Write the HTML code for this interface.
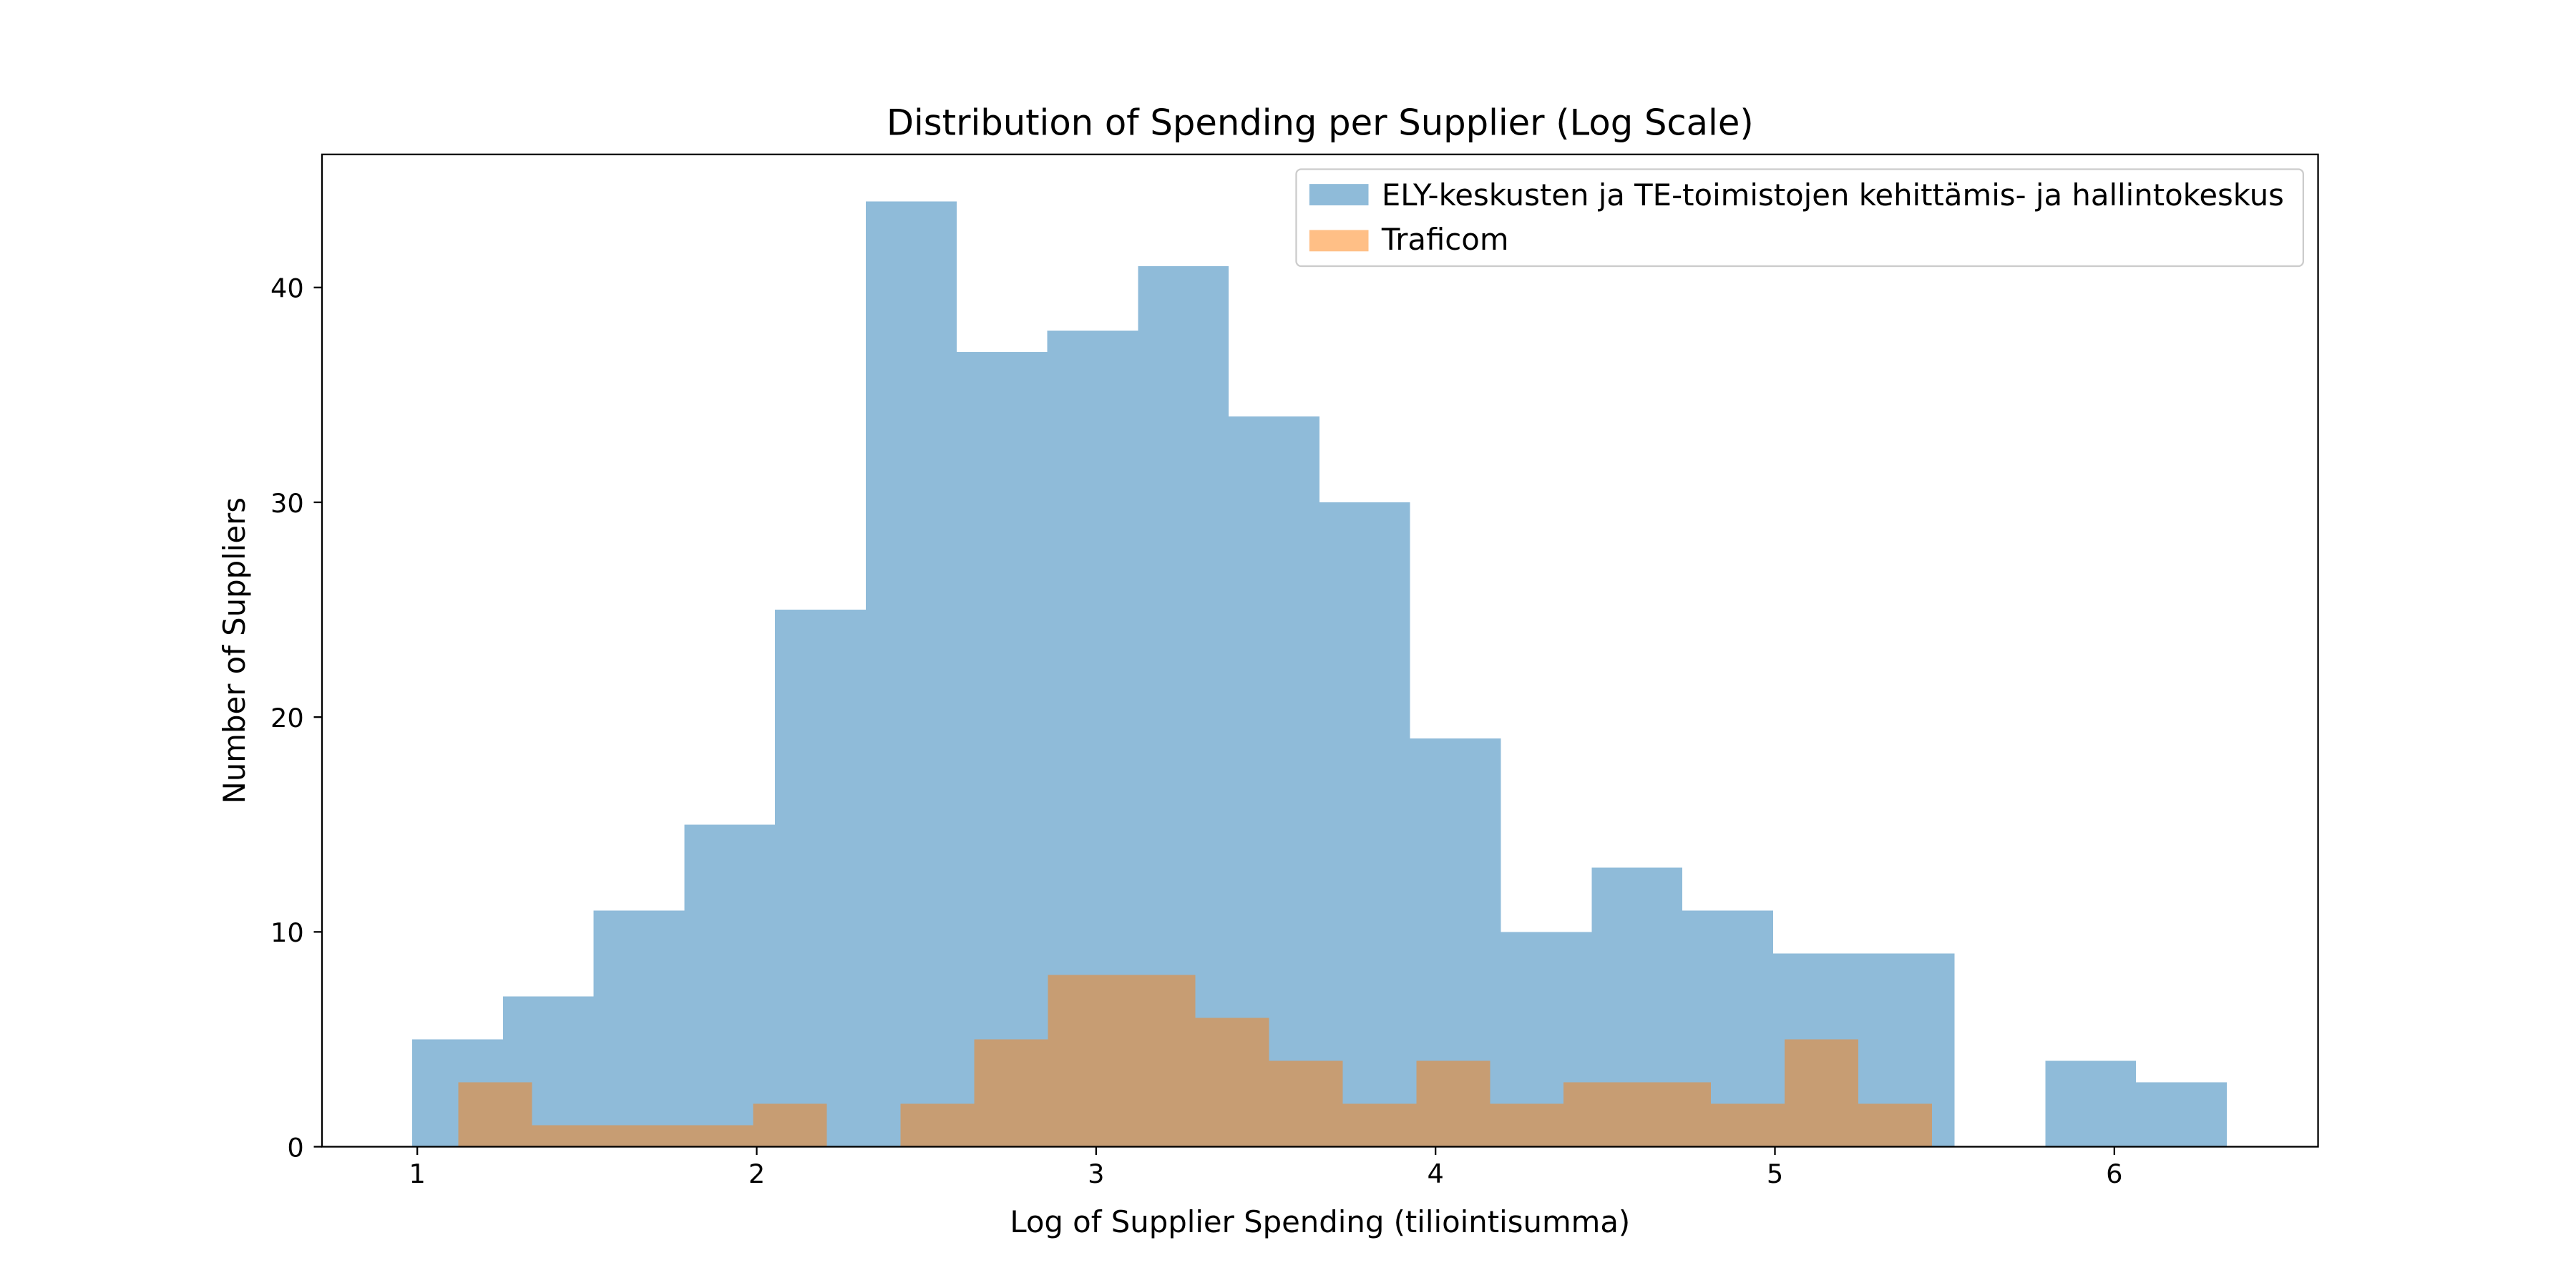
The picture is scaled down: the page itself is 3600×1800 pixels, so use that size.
<!DOCTYPE html>
<html><head><meta charset="utf-8"><style>
html,body{margin:0;padding:0;background:#fff;}
svg{display:block;font-family:"DejaVu Sans","Liberation Sans",sans-serif;}
</style></head><body>
<svg id="chart" width="3600" height="1800" viewBox="0 0 1568 784" xmlns="http://www.w3.org/2000/svg">
<rect width="1568" height="784" fill="#fff"/>
<g id="bars" shape-rendering="crispEdges"></g>
<rect x="196" y="94" width="1215" height="604" fill="none" stroke="#000" stroke-width="1"/>
<g id="xticks"></g><g id="yticks"></g>
<text x="803.5" y="82" text-anchor="middle" font-size="21.6">Distribution of Spending per Supplier (Log Scale)</text>
<text x="803.5" y="750" text-anchor="middle" font-size="18.2">Log of Supplier Spending (tiliointisumma)</text>
<text transform="translate(149,396) rotate(-90)" text-anchor="middle" font-size="18.2">Number of Suppliers</text>
<g>
<rect x="789" y="103" width="613" height="59" rx="3" fill="#fff" fill-opacity="0.8" stroke="#ccc"/>
<rect x="797" y="112" width="36" height="13" fill="#1f77b4" fill-opacity="0.5"/>
<text x="841" y="125" font-size="18.2">ELY-keskusten ja TE-toimistojen kehittämis- ja hallintokeskus</text>
<rect x="797" y="140" width="36" height="13" fill="#ff7f0e" fill-opacity="0.5"/>
<text x="841" y="152" font-size="18.2">Traficom</text>
</g>
</svg>
<script>
const blueStart = 0.985, blueWidth = 0.2673;
const blueCounts = [5,7,11,15,25,44,37,38,41,34,30,19,10,13,11,9,9,0,4,3];
const orangeStart = 1.121, orangeWidth = 0.2171;
const orangeCounts = [3,1,1,1,2,0,2,5,8,8,6,4,2,4,2,3,3,2,5,2];
const xTicks = [1,2,3,4,5,6];
const yTicks = [0,10,20,30,40];
const NS = "http://www.w3.org/2000/svg";
const xs = v => 254 + (v - 1) * 206.6;
const ys = v => 698 - v * 13.075;
const bars = document.getElementById('bars');
function drawSeries(start, w, counts, color, name){
  counts.forEach((c,i)=>{
    if(!c) return;
    const r = document.createElementNS(NS,'rect');
    const x0 = xs(start + i*w), x1 = xs(start + (i+1)*w);
    r.setAttribute('x', x0); r.setAttribute('width', x1 - x0);
    r.setAttribute('y', ys(c)); r.setAttribute('height', ys(0) - ys(c));
    r.setAttribute('fill', color); r.setAttribute('fill-opacity', '0.5');
    
    
    bars.appendChild(r);
  });
}
drawSeries(blueStart, blueWidth, blueCounts, '#1f77b4', 'ely');
drawSeries(orangeStart, orangeWidth, orangeCounts, '#ff7f0e', 'traficom');
const xg = document.getElementById('xticks');
xTicks.forEach(t=>{
  const l = document.createElementNS(NS,'line');
  l.setAttribute('x1', xs(t)); l.setAttribute('x2', xs(t)); l.setAttribute('y1', 698); l.setAttribute('y2', 703);
  l.setAttribute('stroke', '#000');
  
  
  xg.appendChild(l);
  const tx = document.createElementNS(NS,'text');
  tx.setAttribute('x', xs(t)); tx.setAttribute('y', 720); tx.setAttribute('text-anchor', 'middle'); tx.setAttribute('font-size', '16');
  tx.textContent = t;
  
  
  xg.appendChild(tx);
});
const yg = document.getElementById('yticks');
yTicks.forEach(t=>{
  const l = document.createElementNS(NS,'line');
  l.setAttribute('x1', 191); l.setAttribute('x2', 196); l.setAttribute('y1', ys(t)); l.setAttribute('y2', ys(t));
  l.setAttribute('stroke', '#000');
  
  
  yg.appendChild(l);
  const tx = document.createElementNS(NS,'text');
  tx.setAttribute('x', 185); tx.setAttribute('y', ys(t) + 6); tx.setAttribute('text-anchor', 'end'); tx.setAttribute('font-size', '16');
  tx.textContent = t;
  
  
  yg.appendChild(tx);
});
</script>
</body></html>
